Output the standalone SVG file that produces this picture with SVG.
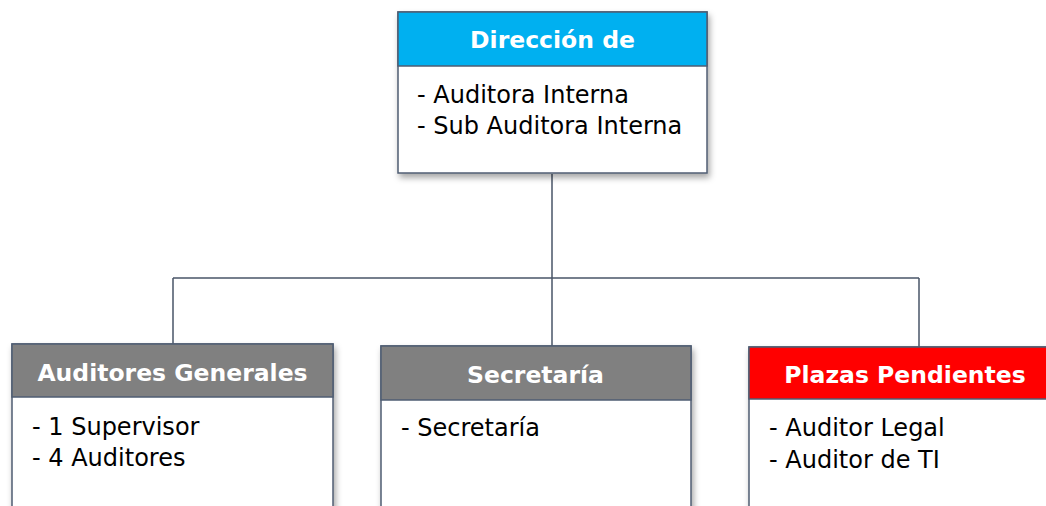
<svg xmlns="http://www.w3.org/2000/svg" width="1046" height="506" viewBox="0 0 1046 506">
<style>
.box{fill:#ffffff;stroke:#4f5d73;stroke-width:1.5}
.hd{stroke:#4f5d73;stroke-width:1.5}
.ht{font-family:"DejaVu Sans",sans-serif;font-weight:bold;font-size:23.5px;fill:#ffffff;text-anchor:middle}
.bt{font-family:"DejaVu Sans",sans-serif;font-size:24px;fill:#000000}
.conn{fill:none;stroke:#4a5568;stroke-width:1.5}
</style>
<defs>
<filter id="sh" x="-10%" y="-10%" width="130%" height="140%">
<feDropShadow dx="2" dy="4" stdDeviation="3" flood-color="#000" flood-opacity="0.35"/>
</filter>
</defs>
<rect width="1046" height="506" fill="#ffffff"/>
<g id="connectors">
<path class="conn" d="M552,174 V278 M173,278 H919 M173,278 V344 M552,278 V346 M919,278 V347"/>
</g>
<g id="direccion">
<rect class="box" x="398" y="12" width="309" height="161" filter="url(#sh)"/>
<rect class="hd" x="398" y="12" width="309" height="54" fill="#00b0f0"/>
<text class="ht" x="552.5" y="48">Dirección de</text>
<text class="bt" x="417" y="103">- Auditora Interna</text>
<text class="bt" x="417" y="134">- Sub Auditora Interna</text>
</g>
<g id="auditores">
<rect class="box" x="12" y="344" width="321" height="180" filter="url(#sh)"/>
<rect class="hd" x="12" y="344" width="321" height="53" fill="#808080"/>
<text class="ht" x="172.5" y="381">Auditores Generales</text>
<text class="bt" x="32" y="435">- 1 Supervisor</text>
<text class="bt" x="32" y="466">- 4 Auditores</text>
</g>
<g id="secretaria">
<rect class="box" x="381" y="346" width="310" height="180" filter="url(#sh)"/>
<rect class="hd" x="381" y="346" width="310" height="54" fill="#808080"/>
<text class="ht" x="535.5" y="383">Secretaría</text>
<text class="bt" x="401" y="436">- Secretaría</text>
</g>
<g id="plazas">
<rect class="box" x="749" y="347" width="310" height="180" filter="url(#sh)"/>
<rect class="hd" x="749" y="347" width="310" height="52" fill="#ff0000"/>
<text class="ht" x="905" y="383">Plazas Pendientes</text>
<text class="bt" x="769" y="436">- Auditor Legal</text>
<text class="bt" x="769" y="468">- Auditor de TI</text>
</g>
</svg>
